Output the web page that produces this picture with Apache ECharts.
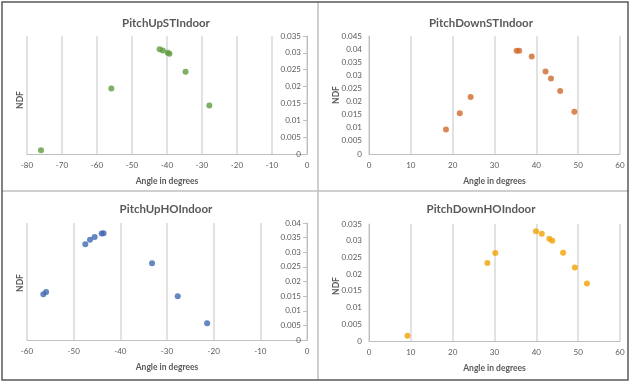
<!DOCTYPE html>
<html>
<head>
<meta charset="utf-8">
<script src="https://cdn.jsdelivr.net/npm/echarts@6/dist/echarts.min.js"></script>
<style>
  html, body { margin: 0; padding: 0; background: #fff; }
  #myChart { width: 630px; height: 385px; }
</style>
</head>
<body>
<div id="myChart"></div>
<script>
// panel titles
const titles = ['PitchUpSTIndoor', 'PitchDownSTIndoor', 'PitchUpHOIndoor', 'PitchDownHOIndoor']

// PitchUpSTIndoor
const upSTAngle = [-76, -55.9, -42.1, -41.2, -39.8, -39.3, -34.7, -27.9]
const upSTNdf = [0.0011, 0.0194, 0.0311, 0.0307, 0.0300, 0.0297, 0.0244, 0.0144]

// PitchDownSTIndoor
const downSTAngle = [18.4, 21.7, 24.3, 35.3, 35.9, 38.9, 42.2, 43.5, 45.7, 49.1]
const downSTNdf = [0.0093, 0.0155, 0.0217, 0.0394, 0.0394, 0.0372, 0.0315, 0.0288, 0.0240, 0.0161]

// PitchUpHOIndoor
const upHOAngle = [-56.5, -55.9, -47.5, -46.5, -45.5, -44.0, -43.6, -33.2, -27.7, -21.4]
const upHONdf = [0.0156, 0.0164, 0.0327, 0.0343, 0.0352, 0.0364, 0.0365, 0.0262, 0.0150, 0.0057]

// PitchDownHOIndoor
const downHOAngle = [9.2, 28.3, 30.2, 39.9, 41.3, 43.1, 43.8, 46.4, 49.2, 52.1]
const downHONdf = [0.0016, 0.0233, 0.0263, 0.0328, 0.0321, 0.0306, 0.0300, 0.0264, 0.0220, 0.0172]

const colors = ['#5E9B3C', '#D06A2A', '#3F68B0', '#F2A100']

const pairs = (xs, ys) => xs.map((x, i) => [x, ys[i]])

const txt = '#595959'
const font = 'Lato, "Noto Sans", sans-serif'

// layout of the four plot areas
const grids = [
  { left: 27, top: 36, width: 280, height: 118 },
  { left: 369, top: 36, width: 251, height: 118 },
  { left: 27, top: 223, width: 280, height: 117 },
  { left: 369, top: 224, width: 251, height: 117 },
]
const xRange = [[-80, 0], [0, 60], [-60, 0], [0, 60]]
const yRange = [[0, 0.035], [0, 0.045], [0, 0.04], [0, 0.035]]

const chart = echarts.init(document.getElementById('myChart'))

const xAxis = grids.map((g, i) => ({
  type: 'value',
  gridIndex: i,
  min: xRange[i][0],
  max: xRange[i][1],
  interval: 10,
  name: 'Angle in degrees',
  nameLocation: 'middle',
  nameGap: 23,
  nameTextStyle: { color: txt, fontSize: 8.5, fontWeight: 'bold', fontFamily: font },
  axisLine: { onZero: false, lineStyle: { color: '#bfbfbf' } },
  axisTick: { show: false },
  axisLabel: { color: txt, fontSize: 8, fontFamily: font, margin: 7 },
  splitLine: { show: true, lineStyle: { color: '#d9d9d9', width: 1.5 } },
}))

const yAxis = grids.map((g, i) => {
  const neg = xRange[i][1] === 0
  return {
    type: 'value',
    gridIndex: i,
    min: yRange[i][0],
    max: yRange[i][1],
    interval: 0.005,
    position: neg ? 'right' : 'left',
    axisLine: { show: true, onZero: false, lineStyle: { color: '#bfbfbf' } },
    axisTick: { show: neg, inside: true, length: 4, lineStyle: { color: '#bfbfbf' } },
    axisLabel: {
      inside: neg,
      color: txt,
      fontSize: 8,
      fontFamily: font,
      margin: neg ? 6 : 7,
      formatter: v => String(+v.toFixed(3)),
    },
    splitLine: { show: false },
  }
})

const data = [
  pairs(upSTAngle, upSTNdf),
  pairs(downSTAngle, downSTNdf),
  pairs(upHOAngle, upHONdf),
  pairs(downHOAngle, downHONdf),
]

const series = data.map((d, i) => ({
  type: 'scatter',
  xAxisIndex: i,
  yAxisIndex: i,
  symbolSize: 6,
  itemStyle: { color: colors[i] },
  data: d,
}))

const title = grids.map((g, i) => ({
  text: titles[i],
  left: i % 2 === 0 ? 161 : 476,
  top: i < 2 ? 12 : 198,
  textAlign: 'center',
  textStyle: { color: txt, fontSize: 11.5, fontWeight: 'bold', fontFamily: font },
}))

const ndf = [[20, 100], [336, 95], [20, 283], [336, 286]].map(p => ({
  type: 'text',
  x: p[0],
  y: p[1],
  rotation: Math.PI / 2,
  style: {
    text: 'NDF', fill: txt, font: 'bold 8.5px ' + font,
    align: 'center', verticalAlign: 'middle',
  },
}))

chart.setOption({
  animation: false,
  title,
  grid: grids,
  xAxis,
  yAxis,
  series,
  graphic: [
    { type: 'line', shape: { x1: 318, y1: 2, x2: 318, y2: 380 }, style: { stroke: '#bfbfbf', lineWidth: 1.5 } },
    { type: 'line', shape: { x1: 2, y1: 191, x2: 629, y2: 191 }, style: { stroke: '#bfbfbf', lineWidth: 1.5 } },
    { type: 'rect', shape: { x: 2, y: 2, width: 626, height: 378 }, style: { fill: 'none', stroke: '#595959', lineWidth: 1.5 } },
    ...ndf,
  ],
})
</script>
</body>
</html>
